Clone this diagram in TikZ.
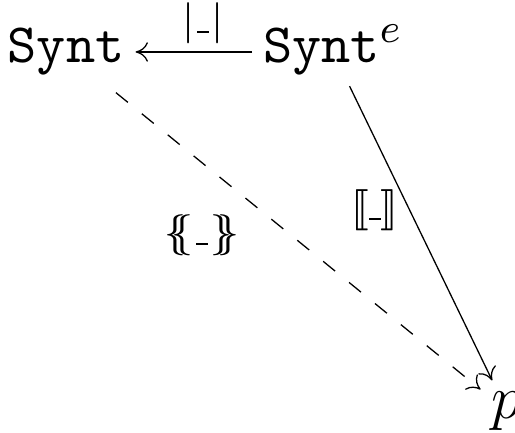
\documentclass[tikz,border=0pt]{standalone}
\usepackage{amsmath,amssymb,stmaryrd}
\usepackage{tikz}
\usetikzlibrary{arrows.meta,positioning}
\newcommand{\hole}{\rule{2.3pt}{0.4pt}}

\begin{document}
\begin{tikzpicture}[x=0.1946pt,y=-0.1946pt,
  obj/.style={inner sep=2pt,font=\fontsize{10.8}{13}\selectfont,text height=6.5pt,text depth=2.4pt},
  map/.style={line width=0.25pt,-{Computer Modern Rightarrow[length=2.4pt,width=3.8pt]}},
  lbl/.style={inner sep=1pt,font=\fontsize{7.6}{9}\selectfont}]
\useasboundingbox (0,0) rectangle (515,433);
\node[obj] (syn) at (66,52) {\texttt{Synt}};
\node[obj] (syne) at (333,52) {\texttt{Synt}$^e$};
\node[inner sep=2pt,font=\large] (p) at (507,411) {$p$};
\draw[map] (syne) -- node[lbl,pos=0.42,above=0.5pt] {$|\mkern1mu\hole\mkern1mu|$} (syn);
\draw[map,dash pattern=on 3pt off 3.5pt,shorten <=2pt] (syn) -- node[lbl,pos=0.49,left=8.8pt] {$\{\mkern-6mu\{\mkern1mu\hole\mkern1mu\}\mkern-6mu\}$} (p);
\draw[map] (syne) -- node[lbl,pos=0.42,left=1pt] {$\llbracket\hole\rrbracket$} (p);
\end{tikzpicture}
\end{document}
